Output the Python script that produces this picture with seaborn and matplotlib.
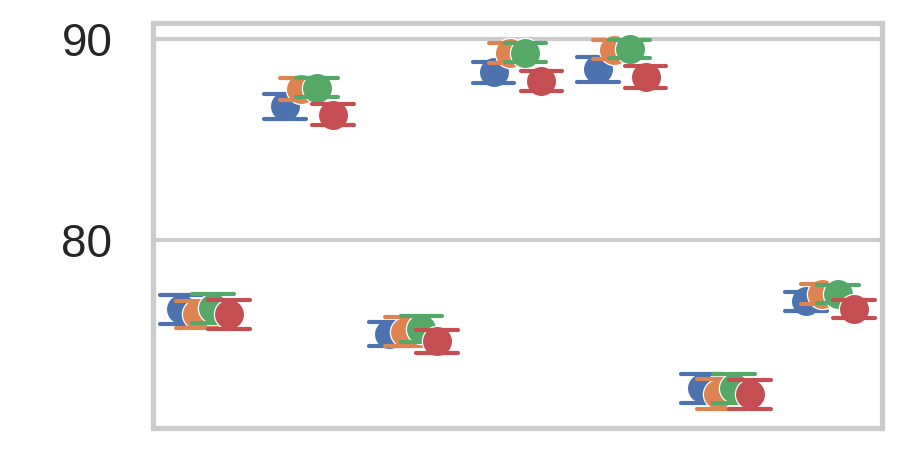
import matplotlib
matplotlib.use("Agg")
import matplotlib.pyplot as plt
import numpy as np
import pandas as pd
import seaborn as sns

categories = ["c1", "c2", "c3", "c4", "c5", "c6", "c7"]
hue_levels = ["s1", "s2", "s3", "s4"]

means_s1 = [76.56, 86.63, 75.33, 88.32, 88.47, 72.63, 76.94]
means_s2 = [76.30, 87.50, 75.44, 89.29, 89.45, 72.34, 77.31]
means_s3 = [76.60, 87.57, 75.56, 89.31, 89.49, 72.62, 77.31]
means_s4 = [76.30, 86.22, 74.96, 87.91, 88.10, 72.33, 76.57]

err_s1 = [0.72, 0.61, 0.60, 0.53, 0.61, 0.72, 0.46]
err_s2 = [0.68, 0.55, 0.70, 0.50, 0.46, 0.73, 0.48]
err_s3 = [0.73, 0.47, 0.63, 0.46, 0.44, 0.73, 0.46]
err_s4 = [0.73, 0.53, 0.56, 0.50, 0.56, 0.72, 0.46]

yticks = [80, 90]

means = [means_s1, means_s2, means_s3, means_s4]
errs = [err_s1, err_s2, err_s3, err_s4]

rows = []
for h, m_list, e_list in zip(hue_levels, means, errs):
    for c, m, e in zip(categories, m_list, e_list):
        rows.append({"category": c, "group": h, "value": m - e})
        rows.append({"category": c, "group": h, "value": m + e})
df = pd.DataFrame(rows)

sns.set_theme(context="poster", style="whitegrid")
plt.rcParams["font.family"] = ["Liberation Sans", "DejaVu Sans"]

fig, ax = plt.subplots(figsize=(6, 3), dpi=150)
fig.subplots_adjust(left=0.17, right=0.98, top=0.949, bottom=0.049)

sns.pointplot(
    data=df, x="category", y="value", hue="group",
    order=categories, hue_order=hue_levels,
    errorbar=lambda v: (v.min(), v.max()),
    dodge=0.46, linestyle="none", capsize=0.4,
    markersize=14.5, markeredgewidth=0.6, markeredgecolor="white",
    err_kws={"linewidth": 2}, palette="deep", legend=False, ax=ax,
)

ax.set_ylim(70.65, 90.78)
ax.set_yticks(yticks)
ax.tick_params(axis="y", pad=7.5)
ax.set_xticklabels([])
ax.set_xlabel("")
ax.set_ylabel("")

fig.savefig("out.png", dpi=150)
